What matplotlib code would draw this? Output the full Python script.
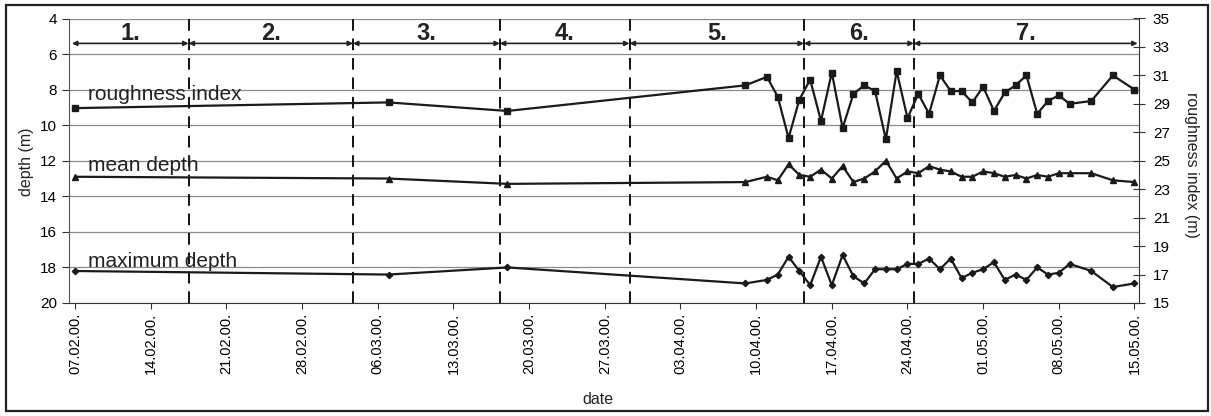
import matplotlib
matplotlib.use("Agg")
import matplotlib.pyplot as plt
import matplotlib.dates as mdates
import pandas as pd
from matplotlib.patches import Rectangle

plt.rcParams["font.family"] = ["Liberation Sans", "DejaVu Sans"]

# sampling dates (2000)
dates = ["2000-02-07", "2000-03-07", "2000-03-18", "2000-04-09",
         "2000-04-11", "2000-04-12", "2000-04-13", "2000-04-14", "2000-04-15",
         "2000-04-16", "2000-04-17", "2000-04-18", "2000-04-19", "2000-04-20",
         "2000-04-21", "2000-04-22", "2000-04-23", "2000-04-24", "2000-04-25",
         "2000-04-26", "2000-04-27", "2000-04-28", "2000-04-29", "2000-04-30",
         "2000-05-01", "2000-05-02", "2000-05-03", "2000-05-04", "2000-05-05",
         "2000-05-06", "2000-05-07", "2000-05-08", "2000-05-09", "2000-05-11",
         "2000-05-13", "2000-05-15"]

roughness = [28.7, 29.1, 28.5, 30.3,
             30.9, 29.5, 26.6, 29.3, 30.7, 27.8, 31.2, 27.3, 29.7, 30.3,
             29.9, 26.5, 31.3, 28.0, 29.7, 28.3, 31.0, 29.9, 29.9, 29.1,
             30.2, 28.5, 29.8, 30.3, 31.0, 28.3, 29.2, 29.6, 29.0, 29.2,
             31.0, 30.0]

mean_depth = [12.9, 13.0, 13.3, 13.2,
              12.9, 13.1, 12.2, 12.8, 12.9, 12.5, 13.0, 12.3, 13.2, 13.0,
              12.6, 12.0, 13.0, 12.6, 12.7, 12.3, 12.5, 12.6, 12.9, 12.9,
              12.6, 12.7, 12.9, 12.8, 13.0, 12.8, 12.9, 12.7, 12.7, 12.7,
              13.1, 13.2]

max_depth = [18.2, 18.4, 18.0, 18.9,
             18.7, 18.4, 17.4, 18.2, 19.0, 17.4, 19.0, 17.3, 18.5, 18.9,
             18.1, 18.1, 18.1, 17.8, 17.8, 17.5, 18.1, 17.5, 18.6, 18.3,
             18.1, 17.7, 18.7, 18.4, 18.7, 18.0, 18.4, 18.3, 17.8, 18.2,
             19.1, 18.9]

# period boundaries and labels
boundaries = ["2000-02-17 12:00", "2000-03-03 17:00", "2000-03-17 07:00",
              "2000-03-29 07:00", "2000-04-14 10:00", "2000-04-24 14:00"]
period_labels = ["1.", "2.", "3.", "4.", "5.", "6.", "7."]
period_start = "2000-02-06 17:00"
period_end = "2000-05-15 07:00"

x = pd.to_datetime(dates)
bounds = pd.to_datetime(boundaries)
edges = [pd.Timestamp(period_start)] + list(bounds) + [pd.Timestamp(period_end)]

W, H = 1211, 416
fig = plt.figure(figsize=(W / 100, H / 100), dpi=100)
ax = fig.add_axes([69 / W, 1 - 303 / H, (1139 - 69) / W, (303 - 18.5) / H])
ax2 = ax.twinx()

line_c = "#1a1a1a"
ax.plot(x, mean_depth, color=line_c, lw=1.6, marker="^", ms=4.5, zorder=3)
ax.plot(x, max_depth, color=line_c, lw=1.6, marker="D", ms=3.2, zorder=3)
ax2.plot(x, roughness, color=line_c, lw=1.6, marker="s", ms=4.2, zorder=3)

ax.set_xlim(pd.Timestamp("2000-02-06 10:30"), pd.Timestamp("2000-05-15 10:00"))
ax.set_ylim(20, 4)
ax.set_yticks(range(4, 21, 2))
ax2.set_ylim(15, 35)
ax2.set_yticks(range(15, 36, 2))

ax.set_xticks(pd.date_range("2000-02-07", "2000-05-15", freq="7D"))
ax.xaxis.set_major_formatter(mdates.DateFormatter("%d.%m.%y."))
ax.tick_params(axis="x", rotation=90, labelsize=10.5, length=4, pad=3,
               color="#333")
ax.tick_params(axis="y", labelsize=11, length=5, direction="out", color="#333")
ax2.tick_params(axis="y", labelsize=11, length=8, direction="inout",
                color="#333", pad=6)

ax.grid(axis="y", color="#8a8a8a", lw=0.9)
ax.set_axisbelow(True)
for s in ["top", "right"]:
    ax.spines[s].set_visible(False)
for s in ["top", "left", "bottom"]:
    ax2.spines[s].set_visible(False)
ax.spines["left"].set_color("#555")
ax.spines["bottom"].set_color("#333")
ax2.spines["right"].set_color("#333")

for b in bounds:
    ax.axvline(b, color="#111", lw=1.4, ls=(0, (6, 4)), zorder=2)

for i, lab in enumerate(period_labels):
    a, b = edges[i], edges[i + 1]
    ax.annotate("", xy=(b, 5.4), xytext=(a, 5.4),
                arrowprops=dict(arrowstyle="<|-|>", color="#222", lw=1.2,
                                mutation_scale=7, shrinkA=0, shrinkB=0))
    ax.text(a + (b - a) / 2, 5.2, lab, ha="center", va="baseline",
            fontsize=17, fontweight="bold", color="#222")

x0 = pd.Timestamp("2000-02-08 05:00")
ax.text(x0, 8.56, "roughness index", fontsize=15, color="#222", va="baseline")
ax.text(x0, 12.6, "mean depth", fontsize=15, color="#222", va="baseline")
ax.text(x0, 17.95, "maximum depth", fontsize=15, color="#222", va="baseline")

fig.text(27 / W, 1 - 162 / H, "depth (m)", rotation=90, fontsize=11.5,
         ha="center", va="center", color="#222")
fig.text(1192 / W, 1 - 165 / H, "roughness index (m)", rotation=270,
         fontsize=11.5, ha="center", va="center", color="#222")
fig.text(598 / W, 1 - 400 / H, "date", fontsize=11.5, ha="center",
         va="center", color="#222")

fig.patches.append(Rectangle((6 / W, 5 / H), (1208 - 6) / W, (411 - 5) / H,
                             transform=fig.transFigure, fill=False,
                             lw=1.6, ec="#222"))

fig.savefig("out.png", dpi=100)
